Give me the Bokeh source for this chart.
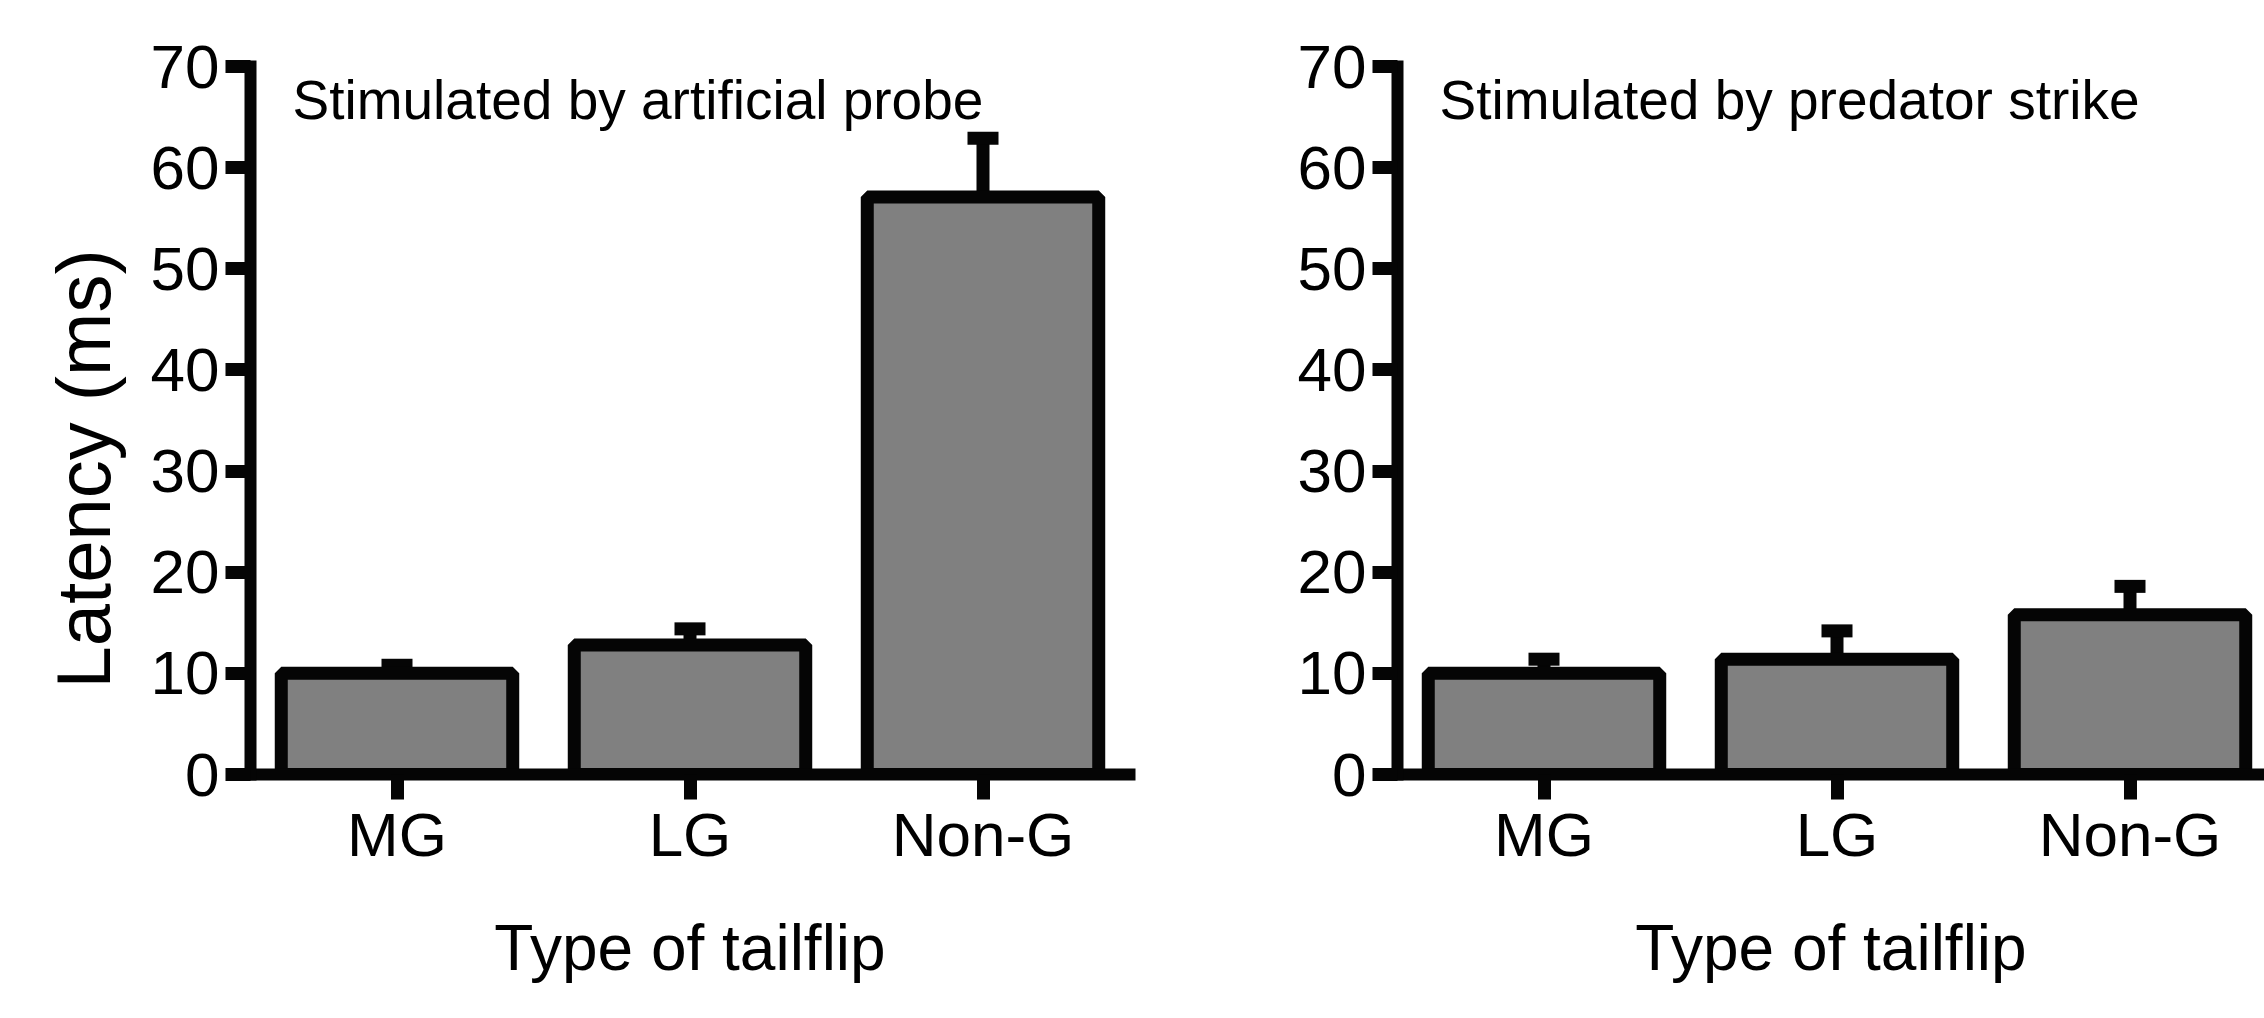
import numpy as np
from bokeh.plotting import figure
from bokeh.layouts import row
from bokeh.models import (ColumnDataSource, Range1d, FixedTicker, Whisker, TeeHead, Label, Title)
from bokeh.embed import file_html
from bokeh.resources import INLINE

# ---------------- data ----------------
categories = ["MG", "LG", "Non-G"]
probe_mean = [10.0, 12.8, 57.1]
probe_sem = [0.8, 1.6, 5.8]
strike_mean = [10.0, 11.4, 15.8]
strike_sem = [1.4, 2.8, 2.8]
y_ticks = [0, 10, 20, 30, 40, 50, 60, 70]
panel_titles = ["Stimulated by artificial probe", "Stimulated by predator strike"]
y_label = "Latency (ms)"
x_label = "Type of tailflip"

FONT = "Liberation Sans, Arial, sans-serif"
INK = "#050505"
BAR = "#808080"

UNIT = 293.0  # px per category


def make_panel(means, sems, title, width, left, right, show_ylabel):
    frame_w = width - left - right
    xs = list(np.arange(len(categories)) + 0.5)
    p = figure(width=width, height=1018, output_backend="svg", toolbar_location=None,
               x_range=Range1d(0, frame_w / UNIT), y_range=Range1d(0, 70),
               min_border_left=left, min_border_right=right,
               min_border_top=66, min_border_bottom=244,
               background_fill_color="white", border_fill_color="white")
    p.outline_line_color = None
    p.xgrid.visible = False
    p.ygrid.visible = False

    src = ColumnDataSource(dict(x=xs, top=means,
                                hi=[m + s for m, s in zip(means, sems)]))
    p.vbar(x="x", top="top", bottom=0, width=0.79, source=src,
           fill_color=BAR, line_color=INK, line_width=13)
    w = Whisker(base="x", lower="top", upper="hi", source=src,
                line_color=INK, line_width=13,
                upper_head=TeeHead(size=31, line_width=13, line_color=INK),
                lower_head=None)
    p.add_layout(w)

    for ax in (p.xaxis[0], p.yaxis[0]):
        ax.axis_line_width = 12
        ax.axis_line_color = INK
        ax.axis_line_cap = "square"
        ax.major_tick_line_width = 13
        ax.major_tick_line_color = INK
        ax.major_tick_out = 25
        ax.major_tick_in = 0
        ax.minor_tick_line_color = None
        ax.major_label_text_font = FONT
        ax.major_label_text_font_size = "62px"
        ax.major_label_text_color = "#000000"

    p.yaxis[0].ticker = FixedTicker(ticks=y_ticks)
    p.yaxis[0].major_label_standoff = 6

    p.xaxis[0].ticker = FixedTicker(ticks=xs)
    p.xaxis[0].major_label_overrides = {x: c for x, c in zip(xs, categories)}
    p.xaxis[0].major_label_standoff = 0
    p.xaxis[0].axis_label = x_label
    p.xaxis[0].axis_label_text_font = FONT
    p.xaxis[0].axis_label_text_font_size = "64px"
    p.xaxis[0].axis_label_text_font_style = "normal"
    p.xaxis[0].axis_label_text_color = "#000000"
    p.xaxis[0].axis_label_standoff = 40

    p.add_layout(Label(x=42, y=675, x_units="screen", y_units="screen", text=title,
                       text_font=FONT, text_font_size="55px",
                       text_color="#000000", text_baseline="alphabetic",
                       text_align="left"))
    if show_ylabel:
        p.add_layout(Title(text=y_label, align="left", offset=86, standoff=44,
                           text_font=FONT, text_font_size="76px",
                           text_font_style="normal", text_color="#000000"), "left")
    return p


p1 = make_panel(probe_mean, probe_sem, panel_titles[0], 1140, 250, 11, True)
p2 = make_panel(strike_mean, strike_sem, panel_titles[1], 1124, 257, 0, False)

layout = row(p1, p2, spacing=0)
open("out.html", "w").write(file_html(layout, INLINE))
